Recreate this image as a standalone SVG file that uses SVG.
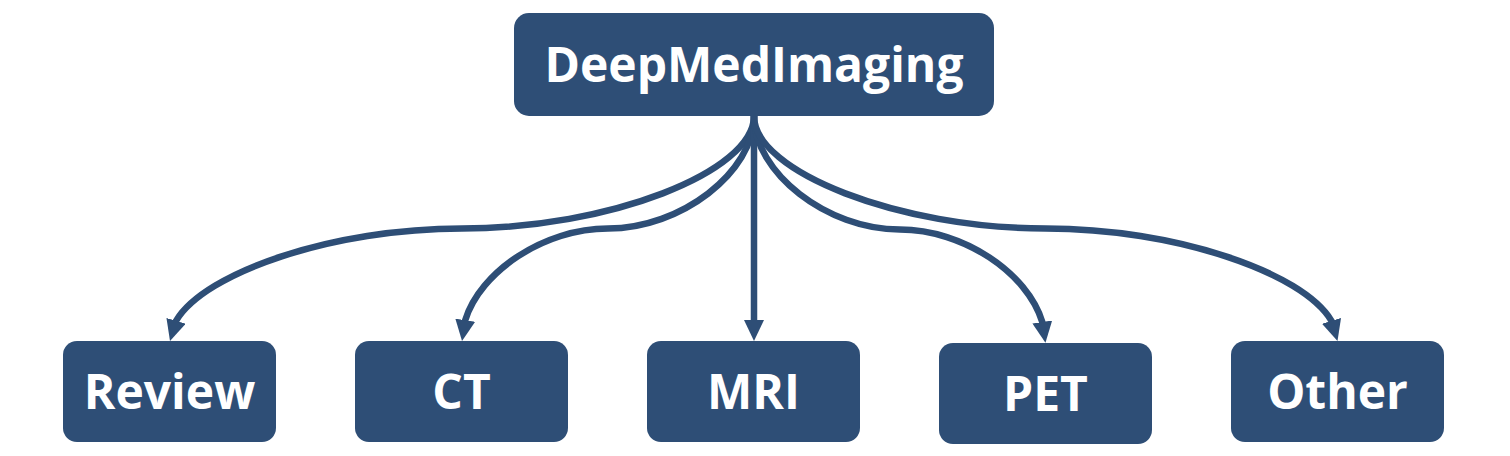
<svg xmlns="http://www.w3.org/2000/svg" width="1510" height="456" viewBox="0 0 1510 456">
  <style>
    .box { fill: #2E4E76; }
    .lbl { fill: #FFFFFF; font-family: "Open Sans", "Noto Sans", "Liberation Sans", sans-serif; font-weight: 700; font-size: 48px; text-anchor: middle; }
    .edge { fill: none; stroke: #2E4E76; stroke-width: 6.5; marker-end: url(#arrow); }
  </style>
  <defs>
    <marker id="arrow" markerUnits="userSpaceOnUse" viewBox="0 -10 21 20" markerWidth="21" markerHeight="20" refX="10" refY="0" orient="auto">
      <path d="M0,-10 L21,0 L0,10 Z" fill="#2E4E76"/>
    </marker>
  </defs>
  <rect width="1510" height="456" fill="#FFFFFF"/>
  <g id="connectors">
    <path class="edge" d="M754,116 C754,172.25 608,228.5 462,228.5 C333.52,228.5 205.04,272.06 176.05,320.85 L173.17,330.43"/>
    <path class="edge" d="M754,116 C754,172.25 681,228.5 608,228.5 C544.05,228.5 480.10,271.67 465.23,320.19 L463.70,330.07"/>
    <path class="edge" d="M754,116 L754,320 L754,330"/>
    <path class="edge" d="M754,116 C754,172.75 826.875,229.5 899.75,229.5 C963.59,229.5 1027.42,273.05 1042.28,321.99 L1043.80,331.88"/>
    <path class="edge" d="M754,116 C754,172.25 899.875,228.5 1045.75,228.5 C1174.12,228.5 1302.49,272.06 1331.45,320.85 L1334.33,330.43"/>
  </g>
  <g id="node-deepmedimaging">
    <rect class="box" x="514" y="13" width="480" height="103" rx="15"/>
    <text class="lbl" x="754" y="82">DeepMedImaging</text>
  </g>
  <g id="node-review">
    <rect class="box" x="63" y="341" width="213" height="101" rx="14"/>
    <text class="lbl" x="169.5" y="409">Review</text>
  </g>
  <g id="node-ct">
    <rect class="box" x="355" y="341" width="213" height="101" rx="14"/>
    <text class="lbl" x="461.5" y="409">CT</text>
  </g>
  <g id="node-mri">
    <rect class="box" x="647" y="341" width="213" height="101" rx="14"/>
    <text class="lbl" x="753.5" y="409">MRI</text>
  </g>
  <g id="node-pet">
    <rect class="box" x="939" y="343" width="213" height="101" rx="14"/>
    <text class="lbl" x="1045.5" y="411">PET</text>
  </g>
  <g id="node-other">
    <rect class="box" x="1231" y="341" width="213" height="101" rx="14"/>
    <text class="lbl" x="1337.5" y="409">Other</text>
  </g>
</svg>
